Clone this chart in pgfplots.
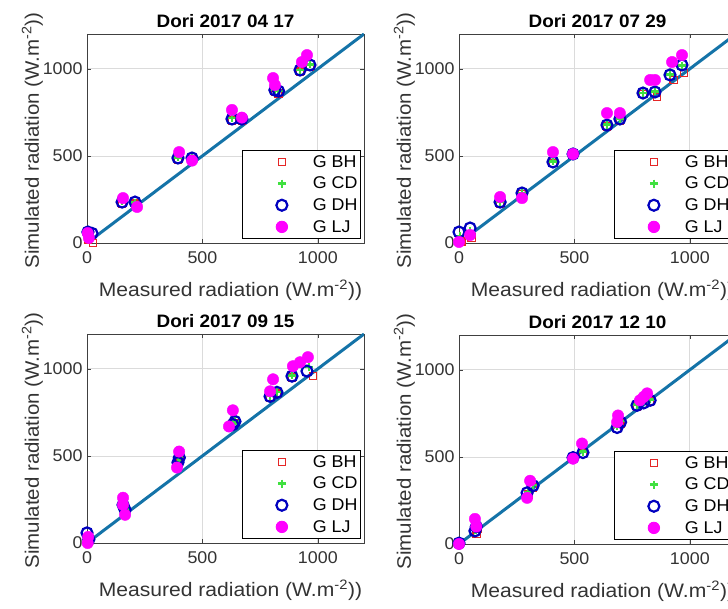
\documentclass[border=0pt]{standalone}
\usepackage{fontspec}
\setmainfont{Liberation Sans}[FakeStretch=1.05]
\usepackage{graphicx}
\usepackage{pgfplots}
\pgfplotsset{compat=1.18}
\definecolor{mred}{rgb}{0.9,0.15,0.15}
\definecolor{mgreen}{rgb}{0.25,0.88,0.25}
\definecolor{mblue}{rgb}{0,0,0.75}
\definecolor{mmag}{rgb}{1,0,1}
\definecolor{mline}{rgb}{0.08,0.45,0.66}
\pgfplotsset{
  mys/.style={
    width=277pt,height=209pt,scale only axis,
    xmin=0,xmax=1200,ymin=0,ymax=1200,
    xtick={0,500,1000}, ytick={0,500,1000},
    /pgf/number format/assume math mode=true,
    /pgf/number format/1000 sep={},
    grid=major, grid style={color=black!14, line width=0.7pt},
    axis line style={color=black!75, line width=0.9pt},
    tick style={color=black!75, line width=0.6pt},
    major tick length=4pt, tick align=inside,
    ticklabel style={font=\fontsize{17}{17}\selectfont, text=black!80},
    xticklabel style={yshift=-5pt},
    yticklabel style={xshift=-1pt},
    label style={font=\fontsize{19.5}{19.5}\selectfont, text=black!80},
    xlabel={\scalebox{1.03}[1]{Measured radiation (W.m\textsuperscript{-2}))}},
    ylabel={Simulated radiation (W.m\textsuperscript{-2}))},
    xlabel style={at={(axis description cs:0.518,-0.225)}, anchor=center},
    ylabel style={at={(axis description cs:-0.197,0.49)}, anchor=center},
    title style={at={(axis description cs:0.5,1.035)}, anchor=center, font=\fontsize{18}{18}\selectfont\bfseries},
    legend style={at={(0.989,0.019)}, anchor=south east, draw=black, line width=0.9pt,
      font=\fontsize{17}{17}\selectfont, inner xsep=2pt, inner ysep=3pt, row sep=4.3pt, fill=white,
      nodes={inner xsep=1pt}},
    legend cell align=left,
    legend image code/.code={\path[draw=none,fill=none] (0pt,-6pt) rectangle (67pt,6pt); \draw[#1] plot coordinates {(37pt,0pt)};},
  },
  gbh/.style={only marks, mark=square, mark size=3.6pt, line width=1.4pt, color=mred},
  gcd/.style={only marks, mark=+, mark size=4pt, line width=2.4pt, color=mgreen},
  gdh/.style={only marks, mark=o, mark size=5.5pt, line width=2.2pt, color=mblue},
  glj/.style={only marks, mark=*, mark size=5.7pt, color=mmag, mark options={draw=mmag, fill=mmag}},
  ident/.style={color=mline, line width=3pt, forget plot},
}
\begin{document}
\begin{tikzpicture}
\useasboundingbox (0,0) rectangle (728pt,608pt);
\fill[white] (0,0) rectangle (728pt,608pt);
\clip (0,0) rectangle (728pt,608pt);

% ---- 2017 04 17
\begin{axis}[mys, at={(87pt,365pt)}, anchor=south west, title={Dori 2017 04 17}]
\addplot[gbh] coordinates {(26,0) (5,20) (152,228) (208,226) (394,480) (455,480) (628,704) (671,704) (814,868) (830,860) (923,984) (966,1010)};
\addplot[gcd] coordinates {(10,30) (152,240) (208,232) (394,492) (455,486) (628,716) (671,710) (814,880) (830,872) (923,995) (966,1025)};
\addplot[gdh] coordinates {(4,63) (22,55) (152,235) (208,235) (394,488) (455,488) (628,712) (671,712) (814,878) (830,872) (923,993) (966,1022)};
\addplot[glj] coordinates {(3,57) (8,29) (156,258) (217,207) (399,522) (455,473) (628,764) (671,720) (806,947) (814,907) (931,1039) (953,1079)};
\addplot[ident] coordinates {(0,0) (1200,1200)};
\legend{G BH, G CD, G DH, G LJ}
\end{axis}

% ---- 2017 07 29
\begin{axis}[mys, at={(459pt,365pt)}, anchor=south west, title={Dori 2017 07 29}]
\addplot[gbh] coordinates {(10,10) (55,30) (178,228) (273,280) (407,460) (494,505) (641,670) (697,705) (797,855) (858,838) (930,936) (975,975)};
\addplot[gcd] coordinates {(5,40) (48,70) (178,238) (273,285) (407,468) (494,512) (641,680) (697,714) (797,862) (849,870) (914,968) (966,1018)};
\addplot[gdh] coordinates {(0,63) (48,86) (178,235) (273,287) (407,465) (494,511) (641,677) (697,712) (797,861) (849,867) (914,965) (966,1022)};
\addplot[glj] coordinates {(0,6) (48,46) (178,264) (273,258) (407,522) (494,511) (641,746) (697,746) (828,936) (849,936) (923,1039) (966,1079)};
\addplot[ident] coordinates {(0,0) (1200,1200)};
\legend{G BH, G CD, G DH, G LJ}
\end{axis}

% ---- 2017 09 15
\begin{axis}[mys, at={(87pt,65pt)}, anchor=south west, title={Dori 2017 09 15}]
\addplot[gbh] coordinates {(5,10) (156,212) (165,185) (394,455) (400,480) (641,690) (632,672) (793,835) (823,858) (888,950) (979,958)};
\addplot[gcd] coordinates {(5,40) (156,222) (165,195) (394,466) (400,495) (641,702) (632,684) (793,846) (823,868) (888,962) (962,1010)};
\addplot[gdh] coordinates {(0,58) (8,20) (156,219) (165,190) (394,462) (400,490) (641,698) (632,680) (793,842) (823,865) (888,958) (953,987)};
\addplot[glj] coordinates {(3,0) (5,35) (156,260) (156,219) (165,162) (399,525) (390,433) (632,762) (615,669) (806,940) (793,871) (892,1015) (923,1038) (957,1067)};
\addplot[ident] coordinates {(0,0) (1200,1200)};
\legend{G BH, G CD, G DH, G LJ}
\end{axis}

% ---- 2017 12 10
\begin{axis}[mys, at={(459pt,64pt)}, anchor=south west, title={Dori 2017 12 10}]
\addplot[gbh] coordinates {(5,0) (77,58) (80,90) (300,285) (321,325) (494,490) (537,518) (685,662) (700,692) (771,788) (828,818)};
\addplot[gcd] coordinates {(3,5) (72,80) (78,105) (298,300) (321,338) (494,500) (537,530) (685,675) (700,705) (771,800) (828,830)};
\addplot[gdh] coordinates {(0,5) (69,75) (75,100) (295,294) (321,335) (494,496) (537,525) (685,669) (700,700) (771,796) (828,825) (800,810)};
\addplot[glj] coordinates {(0,0) (69,144) (75,100) (308,363) (295,265) (494,490) (533,577) (689,738) (685,700) (815,865) (784,825) (800,845)};
\addplot[ident] coordinates {(0,0) (1200,1200)};
\legend{G BH, G CD, G DH, G LJ}
\end{axis}
\end{tikzpicture}
\end{document}
